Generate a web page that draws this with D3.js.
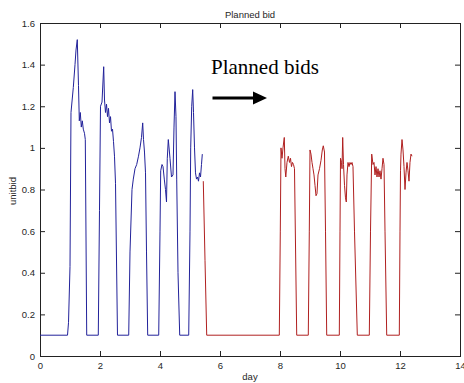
<!DOCTYPE html>
<html><head><meta charset="utf-8">
<script src="https://cdnjs.cloudflare.com/ajax/libs/d3/7.8.5/d3.min.js"></script>
<style>body{margin:0;background:#fff}svg{display:block}</style>
</head><body><div id="chart"></div>
<script>
const title = "Planned bid";
const xLabel = "day";
const yLabel = "unitbid";
const annotation = "Planned bids";
const xTicks = [0,2,4,6,8,10,12,14];
const yTicks = [0,0.2,0.4,0.6,0.8,1,1.2,1.4,1.6];

const blueDays = [0,0.917,0.95,1.0,1.033,1.11,1.167,1.2,1.243,1.283,1.31,1.343,1.377,1.41,1.443,1.483,1.51,1.557,
 1.943,1.983,2.017,2.067,2.123,2.15,2.183,2.217,2.25,2.283,2.317,2.35,2.383,2.417,2.45,2.483,2.517,2.583,
 2.957,3.0,3.067,3.11,3.167,3.223,3.283,3.333,3.383,3.423,3.45,3.483,3.517,3.55,3.59,
 3.957,4.0,4.023,4.067,4.1,4.143,4.183,4.217,4.243,4.277,4.333,4.383,4.433,4.467,4.5,4.533,4.557,4.6,4.657,
 4.957,5.0,5.023,5.057,5.09,5.117,5.15,5.183,5.217,5.25,5.283,5.317,5.35,5.383,5.41];
const blueValues = [0.1,0.1,0.16,0.43,1.17,1.29,1.40,1.47,1.52,1.30,1.13,1.17,1.10,1.13,1.09,1.07,1.04,0.1,
 0.1,0.7,1.2,1.22,1.39,1.23,1.17,1.21,1.15,1.19,1.12,1.15,1.08,1.09,1.03,0.96,0.83,0.1,
 0.1,0.5,0.8,0.85,0.9,0.92,0.96,1.0,1.05,1.12,1.04,0.98,0.88,0.5,0.1,
 0.1,0.6,0.89,0.92,0.91,0.85,0.80,0.74,0.95,1.04,0.95,0.86,0.87,1.1,1.27,1.15,0.85,0.4,0.1,
 0.1,0.6,1.0,1.2,1.28,1.17,1.0,0.88,0.85,0.86,0.84,0.88,0.86,0.92,0.97];

const redDays = [5.443,5.5,5.557,7.977,8.01,8.033,8.067,8.1,8.143,8.167,8.193,8.233,8.277,8.317,8.35,8.383,8.417,8.45,8.483,8.557,
 8.943,8.977,9.0,9.033,9.067,9.1,9.133,9.167,9.2,9.233,9.267,9.317,9.367,9.41,9.443,9.483,9.517,9.557,
 9.977,10.0,10.017,10.05,10.067,10.09,10.117,10.15,10.183,10.21,10.233,10.267,10.3,10.333,10.367,10.4,10.433,10.483,10.577,
 10.977,11.017,11.057,11.1,11.133,11.167,11.2,11.233,11.267,11.3,11.333,11.367,11.4,11.433,11.467,11.5,11.557,
 11.977,12.0,12.017,12.033,12.067,12.1,12.133,12.167,12.2,12.233,12.267,12.3,12.333,12.367,12.4];
const redValues = [0.84,0.46,0.1,0.1,0.6,1.0,0.95,1.0,1.05,0.9,0.86,0.93,0.96,0.93,0.95,0.91,0.93,0.92,0.9,0.1,
 0.1,0.6,0.99,0.97,0.93,0.9,0.87,0.82,0.77,0.78,0.87,0.9,0.94,0.99,1.01,0.98,0.6,0.1,
 0.1,0.6,0.95,0.93,0.9,1.05,0.92,0.82,0.76,0.74,0.87,0.93,0.91,0.93,0.92,0.93,0.91,0.6,0.1,
 0.1,0.6,0.97,0.92,0.93,0.87,0.91,0.86,0.9,0.86,0.89,0.85,0.9,0.95,0.92,0.6,0.1,
 0.1,0.6,0.89,0.97,1.04,0.99,0.91,0.8,0.88,0.93,0.89,0.84,0.93,0.97,0.96];

const W = 464, H = 383;
const m = {left:40, right:4, top:23, bottom:27};
const svg = d3.select("#chart").append("svg").attr("width",W).attr("height",H);
const x = d3.scaleLinear().domain([0,14]).range([m.left, W-m.right]);
const y = d3.scaleLinear().domain([0,1.6]).range([H-m.bottom, m.top]);
const font = "Liberation Sans, Arial, sans-serif";
const axisColor = "#222";

function styleAxis(g){
  g.select(".domain").remove();
  g.selectAll("line").attr("stroke",axisColor);
  g.selectAll("text").attr("fill","#262626").attr("font-family",font).attr("font-size","9.5px");
}
const fmt = d => String(d);
svg.append("g").attr("transform",`translate(0,${y(0)})`)
  .call(d3.axisBottom(x).tickValues(xTicks).tickFormat(fmt).tickSize(-5).tickPadding(6)).call(styleAxis);
svg.append("g").attr("transform",`translate(0,${y(1.6)})`)
  .call(d3.axisTop(x).tickValues(xTicks).tickFormat("").tickSize(-5)).call(styleAxis);
svg.append("g").attr("transform",`translate(${x(0)},0)`)
  .call(d3.axisLeft(y).tickValues(yTicks).tickFormat(fmt).tickSize(-5).tickPadding(5)).call(styleAxis);
svg.append("g").attr("transform",`translate(${x(14)},0)`)
  .call(d3.axisRight(y).tickValues(yTicks).tickFormat("").tickSize(-5)).call(styleAxis);

svg.append("rect").attr("x",x(0)).attr("y",y(1.6)).attr("width",x(14)-x(0)).attr("height",y(0)-y(1.6))
  .attr("fill","none").attr("stroke",axisColor).attr("stroke-width",1).attr("shape-rendering","crispEdges");

const line = d3.line().x(d=>x(d[0])).y(d=>y(d[1]));
svg.append("path").datum(blueDays.map((d,i)=>[d,blueValues[i]]))
  .attr("d",line).attr("fill","none").attr("stroke","#22229a").attr("stroke-width",1);
svg.append("path").datum(redDays.map((d,i)=>[d,redValues[i]]))
  .attr("d",line).attr("fill","none").attr("stroke","#b02020").attr("stroke-width",1);

svg.append("text").attr("x",250).attr("y",17.5).attr("text-anchor","middle")
  .attr("font-family",font).attr("font-size","9.5px").attr("fill","#262626").text(title);
svg.append("text").attr("x",250).attr("y",380).attr("text-anchor","middle")
  .attr("font-family",font).attr("font-size","9.5px").attr("fill","#262626").text(xLabel);
svg.append("text").attr("transform","translate(15.5,191) rotate(-90)").attr("text-anchor","middle")
  .attr("font-family",font).attr("font-size","9.5px").attr("fill","#262626").text(yLabel);

svg.append("text").attr("x",211).attr("y",74)
  .attr("font-family","Liberation Serif, Times New Roman, serif").attr("font-size","21px").attr("fill","#000").text(annotation);
svg.append("line").attr("x1",212.5).attr("x2",255).attr("y1",98).attr("y2",98).attr("stroke","#000").attr("stroke-width",3);
svg.append("path").attr("d","M253,91.5 L267,98 L253,104.5 Z").attr("fill","#000");
</script>
</body></html>
